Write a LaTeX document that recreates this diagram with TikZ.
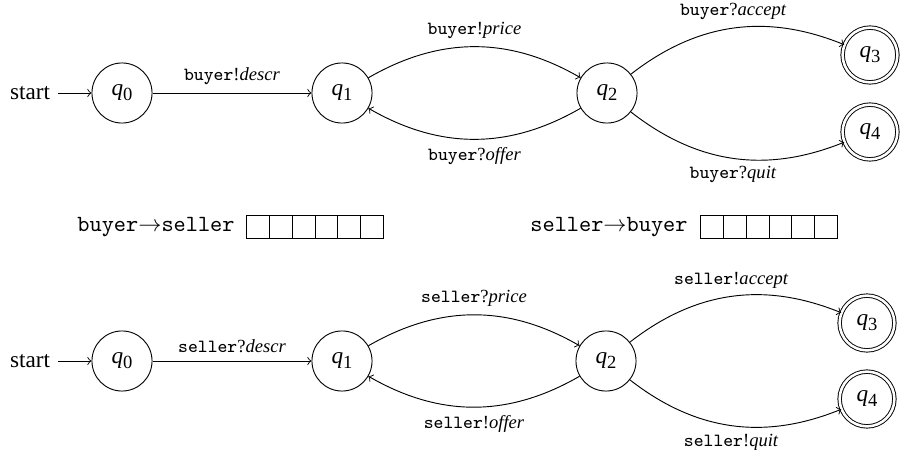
\documentclass[tikz,border=0pt]{standalone}
\usepackage{fontspec}
\setmainfont{Liberation Serif}
\newcommand\qn[1]{\textit{q}\raisebox{-0.45ex}{\footnotesize #1}}
\newcommand\lbl[3]{\texttt{#1}#2\textit{#3}}
\begin{document}
\begin{tikzpicture}[x=0.431pt,y=-0.431pt,
  st/.style={circle,draw,line width=0.4pt,minimum size=25.9pt,inner sep=0pt},
  acc/.style={circle,draw,line width=0.4pt,double,double distance=1.1pt,minimum size=23.6pt,inner sep=0pt},
  lab/.style={font=\footnotesize},
  tr/.style={->,line width=0.4pt},
  qbox/.style={draw,line width=0.4pt,minimum width=9.8pt,minimum height=9.9pt,inner sep=0pt}]
\useasboundingbox (0,0) rectangle (901,457);
% top automaton (buyer)
\node (s1) at (30,93) {start};
\node[st] (a0) at (122,93) {\qn0};
\node[st] (a1) at (342,93) {\qn1};
\node[st] (a2) at (607,93) {\qn2};
\node[acc] (a3) at (870,55) {\qn3};
\node[acc] (a4) at (870,132) {\qn4};
\draw[tr] (s1) -- (a0);
\draw[tr] (a0) -- node[above,lab] {\lbl{buyer}{!}{descr}} (a1);
\draw[tr] (a1) to[bend left=30] node[above,lab] {\lbl{buyer}{!}{price}} (a2);
\draw[tr] (a2) to[bend left=30] node[below,lab] {\lbl{buyer}{?}{offer}} (a1);
\draw[tr] (a2) to[bend left=30] node[above,lab] {\lbl{buyer}{?}{accept}} (a3);
\draw[tr] (a2) to[bend right=30] node[below,lab] {\lbl{buyer}{?}{quit}} (a4);
% queues
\node (qa) at (156,227) {\texttt{buyer}$\rightarrow$\texttt{seller}};
\foreach \i in {0,...,5}
  \node[qbox] (qa\i) at ({258.3+\i*22.7},226.5) {};
\node (qb) at (609,227) {\texttt{seller}$\rightarrow$\texttt{buyer}};
\foreach \i in {0,...,5}
  \node[qbox] (qb\i) at ({712.3+\i*22.7},226.5) {};
% bottom automaton (seller)
\node (s2) at (30,361) {start};
\node[st] (b0) at (122,361) {\qn0};
\node[st] (b1) at (342,361) {\qn1};
\node[st] (b2) at (606,361) {\qn2};
\node[acc] (b3) at (867,323) {\qn3};
\node[acc] (b4) at (867,399) {\qn4};
\draw[tr] (s2) -- (b0);
\draw[tr] (b0) -- node[above,lab] {\lbl{seller}{?}{descr}} (b1);
\draw[tr] (b1) to[bend left=30] node[above,lab] {\lbl{seller}{?}{price}} (b2);
\draw[tr] (b2) to[bend left=30] node[below,lab] {\lbl{seller}{!}{offer}} (b1);
\draw[tr] (b2) to[bend left=30] node[above,lab] {\lbl{seller}{!}{accept}} (b3);
\draw[tr] (b2) to[bend right=30] node[below,lab] {\lbl{seller}{!}{quit}} (b4);
\end{tikzpicture}
\end{document}
